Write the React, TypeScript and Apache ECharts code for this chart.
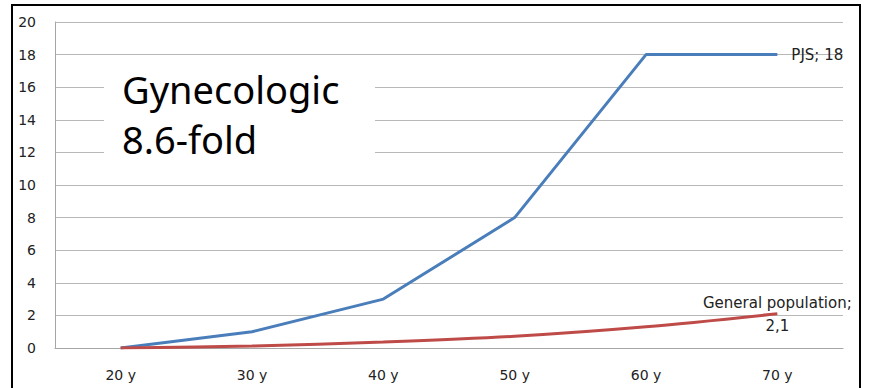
import React, { useEffect, useRef } from "react";
import * as echarts from "echarts";

const ageGroups = ["20 y", "30 y", "40 y", "50 y", "60 y", "70 y"];
const pjsRisk = [0, 1, 3, 8, 18, 18];
const generalRisk = [0, 0.12, 0.37, 0.72, 1.3, 2.1];
const headline = ["Gynecologic", "8.6-fold"];

const labelFont = "'DejaVu Sans', sans-serif";
const headlineFont = "'Noto Sans', 'Open Sans', sans-serif";

export default function App() {
  const ref = useRef<HTMLDivElement>(null);

  useEffect(() => {
    if (!ref.current) return;
    const chart = echarts.init(ref.current, null, { renderer: "svg" });
    chart.setOption({
      animation: false,
      backgroundColor: "#ffffff",
      grid: { left: 55, right: 26, top: 22, bottom: 40 },
      xAxis: {
        type: "category",
        data: ageGroups,
        boundaryGap: true,
        axisLine: { show: true, lineStyle: { color: "#a6a6a6", width: 1 } },
        axisTick: { show: false },
        axisLabel: { color: "#222", fontSize: 14, fontFamily: labelFont, margin: 20 },
      },
      yAxis: {
        type: "value",
        min: 0,
        max: 20,
        interval: 2,
        axisLine: { show: true, lineStyle: { color: "#a6a6a6", width: 1 } },
        axisTick: { show: false },
        axisLabel: { color: "#222", fontSize: 14, fontFamily: labelFont, margin: 19 },
        splitLine: { lineStyle: { color: "#b8b8b8", width: 1 } },
      },
      graphic: [
        {
          type: "rect",
          z: 100,
          shape: { x: 104, y: 62, width: 271, height: 110 },
          style: { fill: "#ffffff" },
        },
        {
          type: "text",
          z: 101,
          x: 122,
          y: 70,
          style: {
            text: headline[0],
            fill: "#000",
            font: `38px ${headlineFont}`,
          },
        },
        {
          type: "text",
          z: 101,
          x: 122,
          y: 120,
          style: {
            text: headline[1],
            fill: "#000",
            font: `38px ${headlineFont}`,
          },
        },
        {
          type: "rect",
          z: 102,
          shape: { x: 12, y: 5, width: 848, height: 400 },
          style: { fill: "none", stroke: "#000", lineWidth: 2 },
        },
      ],
      series: [
        {
          name: "PJS",
          type: "line",
          data: pjsRisk,
          smooth: false,
          symbol: "none",
          lineStyle: { color: "#4a7ebb", width: 3 },
          endLabel: {
            show: true,
            formatter: "PJS; 18",
            color: "#222",
            fontSize: 15,
            fontFamily: labelFont,
            distance: 14,
          },
        },
        {
          name: "General population",
          type: "line",
          data: generalRisk,
          smooth: 0.3,
          symbol: "none",
          lineStyle: { color: "#be4b48", width: 3 },
          markPoint: {
            symbol: "circle",
            symbolSize: 0,
            data: [{ coord: [5, 2.1] }],
            label: {
              show: true,
              formatter: "{a|General population;}\n{b|2,1}",
              color: "#222",
              fontSize: 15,
              fontFamily: labelFont,
              lineHeight: 23,
              position: "inside",
              offset: [0, 1],
              rich: {
                a: { fontSize: 15, fontFamily: labelFont, color: "#222", align: "right", lineHeight: 23 },
                b: { fontSize: 15, fontFamily: labelFont, color: "#222", align: "center", lineHeight: 23 },
              },
            },
          },
        },
      ],
    });
    return () => chart.dispose();
  }, []);

  return (
    <div
      ref={ref}
      style={{ position: "fixed", left: 0, top: 0, width: 869, height: 388 }}
    />
  );
}
